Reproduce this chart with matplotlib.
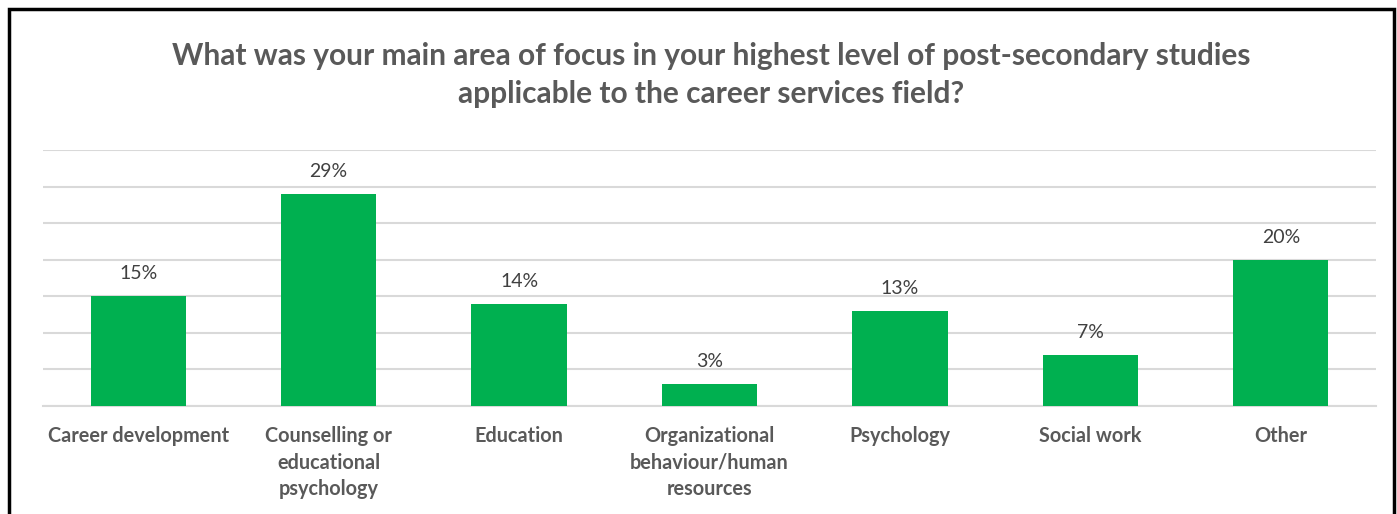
import matplotlib.pyplot as plt
from matplotlib.patches import Rectangle

categories = ["Career development", "Counselling or\neducational\npsychology", "Education",
              "Organizational\nbehaviour/human\nresources", "Psychology", "Social work", "Other"]
values = [15, 29, 14, 3, 13, 7, 20]
labels = ["15%", "29%", "14%", "3%", "13%", "7%", "20%"]

plt.rcParams['font.family'] = ['Lato', 'DejaVu Sans']

fig = plt.figure(figsize=(13.97, 5.14), dpi=100)
ax = fig.add_axes([43/1397, 108/514, (1376-43)/1397, 256/514])

x = range(len(categories))
ax.bar(x, values, width=0.5, color='#00B050', zorder=3)
ax.set_xlim(-0.5, len(categories) - 0.5)
ax.set_ylim(0, 35)
ax.set_yticks(range(0, 36, 5))
ax.yaxis.grid(True, color='#D9D9D9', linewidth=1.5, zorder=0)
ax.tick_params(axis='y', left=False, labelleft=False)
ax.tick_params(axis='x', bottom=False, pad=11)
ax.set_xticks(list(x))
ax.set_xticklabels(categories, fontsize=14.3, fontweight='bold', color='#595959', linespacing=1.4, va='top')
for s in ['top', 'right', 'left']:
    ax.spines[s].set_visible(False)
ax.spines['bottom'].set_color('#D9D9D9')
ax.spines['bottom'].set_linewidth(1.5)

for xi, v, lab in zip(x, values, labels):
    ax.annotate(lab, (xi, v), xytext=(0, 10), textcoords='offset points', ha='center', va='bottom',
                fontsize=14, color='#404040')

fig.text(711/1397, 1 - 75/514, "What was your main area of focus in your highest level of post-secondary studies\napplicable to the career services field?",
         ha='center', va='center', fontsize=21.5, fontweight='bold', color='#595959', linespacing=1.45)

fig.patches.append(Rectangle((8.5/1397, -0.05), (1394-8.5)/1397, 1.05 - 8.5/514, transform=fig.transFigure,
                             fill=False, edgecolor='black', linewidth=2.5))

fig.savefig('out.png', dpi=100)
